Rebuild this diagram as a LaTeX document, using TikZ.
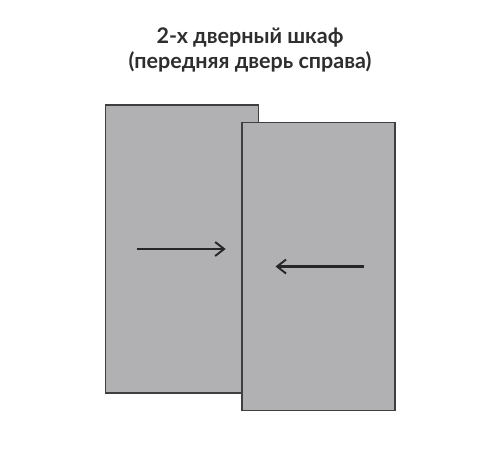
\documentclass[tikz,border=0pt]{standalone}
\usepackage{fontspec}
\setmainfont{Lato}
\usepackage{tikz}
\usetikzlibrary{arrows.meta,positioning,calc}
\definecolor{doorgray}{HTML}{B1B1B4}
\definecolor{edgegray}{HTML}{3F3F41}
\definecolor{titlegray}{HTML}{2E2E2E}
\def\DoorWidth{153pt}
\def\DoorHeight{288pt}

\begin{document}
\begin{tikzpicture}[x=1pt,y=-1pt,
    door/.style={draw=edgegray,fill=doorgray,line width=1.6pt,minimum width=\DoorWidth,minimum height=\DoorHeight,inner sep=0pt},
    slide/.style={line width=2.1pt,draw=black!85,-{Straight Barb[length=9pt,width=14pt,line width=1.9pt]}}]
    \useasboundingbox (0,0) rectangle (500,453);
    \node[font=\bfseries\fontsize{21.5}{25}\selectfont,text=titlegray,align=center] (title) at (250,50) {2-х дверный шкаф\\(передняя дверь справа)};
    \node[door] (back) at (182,249) {};
    \node[door] (front) at (318.2,266.5) {};
    % arrows on the doors
    \coordinate (ba) at ($(back.west)+(32,0)$);
    \coordinate (bb) at ($(back.west)+(121,0)$);
    \coordinate (fa) at ($(front.east)+(-32,0)$);
    \coordinate (fb) at ($(front.east)+(-120,0)$);
    \draw[slide] (ba) -- (bb);
    \draw[slide] (fa) -- (fb);
\end{tikzpicture}
\end{document}
